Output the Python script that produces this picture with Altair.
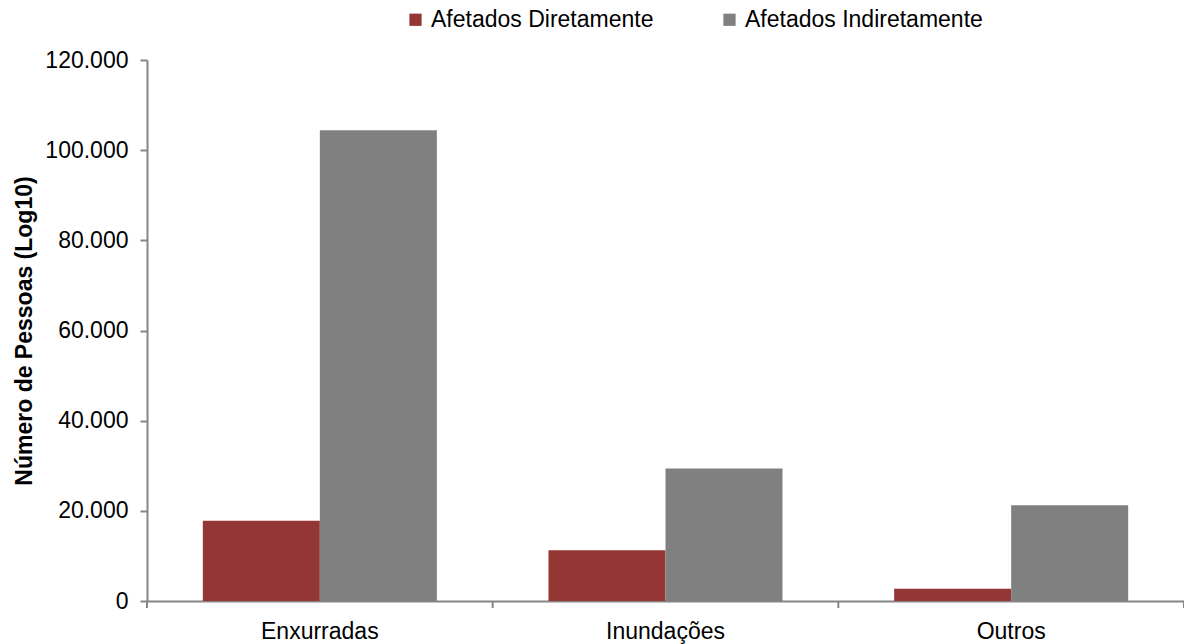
import altair as alt
import pandas as pd

# Affected people by disaster type
categorias = ["Enxurradas", "Inundações", "Outros"]
diretamente = [17800, 11250, 2700]
indiretamente = [104400, 29400, 21250]
series = ["Afetados Diretamente", "Afetados Indiretamente"]
cores = ["#943634", "#808080"]

rows = []
for c, d, i in zip(categorias, diretamente, indiretamente):
    rows.append({"categoria": c, "serie": series[0], "valor": d})
    rows.append({"categoria": c, "serie": series[1], "valor": i})
df = pd.DataFrame(rows)

FONT = "Liberation Sans"
W, H = 1037, 541

x_scale = alt.Scale(domain=categorias, paddingInner=0, paddingOuter=0)

bars = alt.Chart(df).mark_bar().encode(
    x=alt.X("categoria:N", scale=x_scale, sort=categorias,
            axis=alt.Axis(title=None, labelAngle=0, ticks=False,
                          domainColor="#868686", domainWidth=2,
                          labelFont=FONT, labelFontSize=23, labelColor="#000000",
                          labelPadding=19)),
    xOffset=alt.XOffset("serie:N", sort=series,
                        scale=alt.Scale(paddingInner=0, paddingOuter=0.477)),
    y=alt.Y("valor:Q",
            scale=alt.Scale(domain=[0, 120000]),
            axis=alt.Axis(title="Número de Pessoas (Log10)",
                          values=[0, 20000, 40000, 60000, 80000, 100000, 120000],
                          labelExpr="replace(format(datum.value, ','), ',', '.')",
                          grid=False, domainColor="#868686", domainWidth=2,
                          tickColor="#868686", tickWidth=2, tickSize=7,
                          labelFont=FONT, labelFontSize=23, labelColor="#000000",
                          labelPadding=12,
                          titleFont=FONT, titleFontSize=23, titleFontWeight="bold",
                          titleColor="#000000", titlePadding=8)),
    color=alt.Color("serie:N", sort=series,
                    scale=alt.Scale(domain=series, range=cores),
                    legend=alt.Legend(title=None, orient="none",
                                      direction="horizontal",
                                      legendX=257, legendY=-52,
                                      symbolType="square", symbolSize=150,
                                      symbolStrokeWidth=0, symbolOpacity=1,
                                      labelFont=FONT, labelFontSize=23,
                                      labelColor="#000000", labelOffset=4,
                                      labelLimit=400, columnPadding=64)),
)

# tick marks between categories on the x axis
tick_df = pd.DataFrame({"categoria": categorias})
ticks_left = alt.Chart(tick_df).mark_rule(color="#868686", strokeWidth=2).encode(
    x=alt.X("categoria:N", scale=x_scale, sort=categorias, bandPosition=0),
    y=alt.value(H),
    y2=alt.value(H + 7),
)
ticks_right = alt.Chart(tick_df.tail(1)).mark_rule(color="#868686", strokeWidth=2).encode(
    x=alt.X("categoria:N", scale=x_scale, sort=categorias, bandPosition=1),
    y=alt.value(H),
    y2=alt.value(H + 7),
)

chart = alt.layer(bars, ticks_left, ticks_right).properties(
    width=W, height=H,
    autosize=alt.AutoSizeParams(type="none"),
    padding={"left": 147, "top": 60, "right": 0, "bottom": 43},
    background="#ffffff",
).configure_view(stroke=None)

chart.save("out.html", embed_options={"renderer": "svg", "actions": False})
